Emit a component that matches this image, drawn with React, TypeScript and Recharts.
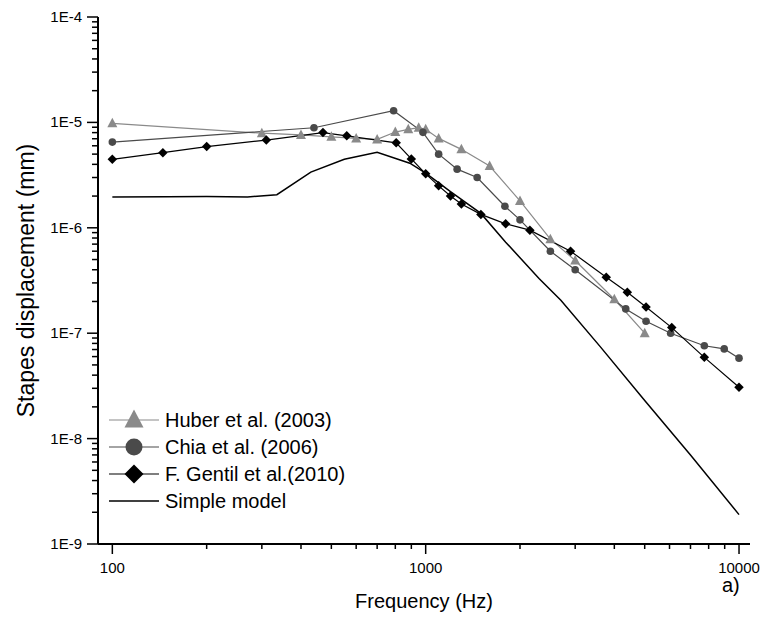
import React from 'react';
import { LineChart, Line, XAxis, YAxis } from 'recharts';

// Frequency (Hz) / stapes displacement (mm) per data set
const huberFreq = [100, 300, 400, 500, 600, 700, 800, 880, 950, 1000, 1100, 1300, 1600, 2000, 2500, 3000, 4000, 5000];
const huberDisp = [9.8e-6, 7.9e-6, 7.6e-6, 7.3e-6, 7.05e-6, 6.9e-6, 8.1e-6, 8.6e-6, 8.9e-6, 8.6e-6, 7.05e-6, 5.55e-6, 3.85e-6, 1.8e-6, 7.8e-7, 4.9e-7, 2.1e-7, 1.0e-7];

const chiaFreq = [100, 440, 790, 980, 1100, 1260, 1460, 1790, 2000, 2500, 3000, 4350, 5050, 6050, 7750, 8970, 10000];
const chiaDisp = [6.5e-6, 8.9e-6, 1.29e-5, 8.05e-6, 5.0e-6, 3.6e-6, 3.0e-6, 1.6e-6, 1.19e-6, 6.0e-7, 4.0e-7, 1.7e-7, 1.3e-7, 1.0e-7, 7.6e-8, 7.1e-8, 5.8e-8];

const gentilFreq = [100, 145, 200, 310, 470, 560, 805, 900, 1000, 1100, 1200, 1300, 1500, 1800, 2150, 2900, 3770, 4400, 5050, 6100, 7750, 10000];
const gentilDisp = [4.46e-6, 5.16e-6, 5.9e-6, 6.8e-6, 8.0e-6, 7.45e-6, 6.4e-6, 4.5e-6, 3.25e-6, 2.5e-6, 2.0e-6, 1.68e-6, 1.34e-6, 1.09e-6, 9.5e-7, 6.0e-7, 3.4e-7, 2.45e-7, 1.77e-7, 1.13e-7, 5.9e-8, 3.07e-8];

const modelFreq = [100, 150, 200, 270, 335, 430, 550, 700, 890, 1000, 1200, 1500, 1800, 2000, 2300, 2700, 3600, 5000, 7000, 10000];
const modelDisp = [1.96e-6, 1.97e-6, 1.98e-6, 1.96e-6, 2.06e-6, 3.38e-6, 4.47e-6, 5.2e-6, 4.1e-6, 3.3e-6, 2.2e-6, 1.37e-6, 7.3e-7, 5.2e-7, 3.3e-7, 2.05e-7, 7.5e-8, 2.3e-8, 7.0e-9, 1.9e-9];

const xMajor = [100, 1000, 10000];
const yMajor = [1e-9, 1e-8, 1e-7, 1e-6, 1e-5, 1e-4];

const seriesNames = ['Huber et al. (2003)', 'Chia et al. (2006)', 'F. Gentil et al.(2010)', 'Simple model'];

const FONT = '"Liberation Sans", Arial, sans-serif';
const HUBER = '#8a8a8a';
const CHIA = '#4a4a4a';
const GENTIL = '#000000';

const toRows = (fs: number[], vs: number[]) => fs.map((f, i) => ({ f, v: vs[i] }));

const huberData = toRows(huberFreq, huberDisp);
const chiaData = toRows(chiaFreq, chiaDisp);
const gentilData = toRows(gentilFreq, gentilDisp);
const modelData = toRows(modelFreq, modelDisp);

// minor ticks at 2..9 of each decade
const withMinors = (majors: number[]) => {
  const out: number[] = [];
  majors.forEach((m, i) => {
    out.push(m);
    if (i < majors.length - 1) for (let k = 2; k <= 9; k++) out.push(m * k);
  });
  return out;
};
const xTicks = withMinors(xMajor);
const yTicks = withMinors(yMajor);

const isMajor = (v: number) => Math.abs(Math.log10(v) - Math.round(Math.log10(v))) < 1e-6;

const BottomTick = ({ x, y, payload }: any) => {
  const major = isMajor(payload.value);
  return (
    <g>
      <line x1={x} x2={x} y1={y} y2={y + (major ? 10 : 5)} stroke="#000" strokeWidth={1.5} />
      {major && (
        <text x={x} y={y + 29} textAnchor="middle" fontSize={15} fontFamily={FONT} fill="#000">
          {Math.round(payload.value)}
        </text>
      )}
    </g>
  );
};

const TopTick = ({ x, y, payload }: any) => (
  <line x1={x} x2={x} y1={y} y2={y + (isMajor(payload.value) ? 4 : 2)} stroke="#000" strokeWidth={1} />
);

const LeftTick = ({ x, y, payload }: any) => {
  const major = isMajor(payload.value);
  return (
    <g>
      <line x1={x} x2={x - (major ? 11 : 6)} y1={y} y2={y} stroke="#000" strokeWidth={1.5} />
      {major && (
        <text x={x - 16} y={y + 5} textAnchor="end" fontSize={15} fontFamily={FONT} fill="#000">
          {`1E${Math.round(Math.log10(payload.value))}`}
        </text>
      )}
    </g>
  );
};

const RightTick = ({ x, y, payload }: any) => (
  <line x1={x} x2={x - (isMajor(payload.value) ? 4 : 2)} y1={y} y2={y} stroke="#000" strokeWidth={1} />
);

const Triangle = ({ cx, cy, s, fill }: any) => (
  <polygon points={`${cx},${cy - s * 0.55} ${cx - s / 2},${cy + s * 0.4} ${cx + s / 2},${cy + s * 0.4}`} fill={fill} />
);
const Diamond = ({ cx, cy, s, fill }: any) => (
  <polygon points={`${cx},${cy - s / 2} ${cx + s / 2},${cy} ${cx},${cy + s / 2} ${cx - s / 2},${cy}`} fill={fill} />
);

const triDot = (p: any) => <Triangle key={`t${p.index}`} cx={p.cx} cy={p.cy} s={10} fill={HUBER} />;
const circDot = (p: any) => <circle key={`c${p.index}`} cx={p.cx} cy={p.cy} r={3.8} fill={CHIA} />;
const diaDot = (p: any) => <Diamond key={`d${p.index}`} cx={p.cx} cy={p.cy} s={9.5} fill={GENTIL} />;

const LegendBox = () => {
  const rows = [
    { color: HUBER, mark: (cx: number, cy: number) => <Triangle cx={cx} cy={cy} s={19} fill={HUBER} /> },
    { color: CHIA, mark: (cx: number, cy: number) => <circle cx={cx} cy={cy} r={8.5} fill={CHIA} /> },
    { color: GENTIL, mark: (cx: number, cy: number) => <Diamond cx={cx} cy={cy} s={19} fill={GENTIL} /> },
    { color: '#000', mark: null },
  ];
  return (
    <svg width={260} height={110} style={{ position: 'absolute', left: 100, top: 406 }}>
      {rows.map((r, i) => {
        const cy = 14 + i * 27;
        return (
          <g key={i}>
            <line x1={9} x2={59} y1={cy} y2={cy} stroke={r.color} strokeWidth={i === 3 ? 1.5 : 1.2} />
            {r.mark && r.mark(34, cy)}
            <text x={65} y={cy + 7} fontSize={20} fontFamily={FONT} fill="#000">
              {seriesNames[i]}
            </text>
          </g>
        );
      })}
    </svg>
  );
};

export default function App() {
  return (
    <div style={{ position: 'absolute', left: 0, top: 0, width: 768, height: 620, background: '#fff' }}>
      <LineChart width={768} height={620} margin={{ top: 17, right: 18, bottom: 0, left: 0 }}>
        <XAxis
          xAxisId="b"
          type="number"
          dataKey="f"
          scale="log"
          domain={[90, 10840]}
          allowDataOverflow
          ticks={xTicks}
          interval={0}
          tickSize={0}
          tickMargin={0}
          tick={<BottomTick />}
          axisLine={{ stroke: '#000', strokeWidth: 2 }}
          height={76}
          label={({ viewBox }: any) => (
            <text x={viewBox.x + viewBox.width / 2} y={viewBox.y + 64} textAnchor="middle" fontSize={20} fontFamily={FONT} fill="#000">
              Frequency (Hz)
            </text>
          )}
        />
        <XAxis
          xAxisId="t"
          orientation="top"
          type="number"
          dataKey="f"
          scale="log"
          domain={[90, 10840]}
          allowDataOverflow
          ticks={xTicks}
          interval={0}
          tickSize={0}
          tickMargin={0}
          tick={<TopTick />}
          axisLine={{ stroke: '#000', strokeWidth: 2 }}
          height={0}
        />
        <YAxis
          yAxisId="l"
          type="number"
          scale="log"
          domain={[1e-9, 1e-4]}
          allowDataOverflow
          ticks={yTicks}
          interval={0}
          tickSize={0}
          tickMargin={0}
          tick={<LeftTick />}
          axisLine={{ stroke: '#000', strokeWidth: 2 }}
          width={98}
          label={({ viewBox }: any) => {
            const cx = 34;
            const cy = viewBox.y + viewBox.height / 2;
            return (
              <text x={cx} y={cy} transform={`rotate(-90, ${cx}, ${cy})`} textAnchor="middle" fontSize={23} fontFamily={FONT} fill="#000">
                Stapes displacement (mm)
              </text>
            );
          }}
        />
        <YAxis
          yAxisId="r"
          orientation="right"
          type="number"
          scale="log"
          domain={[1e-9, 1e-4]}
          allowDataOverflow
          ticks={yTicks}
          interval={0}
          tickSize={0}
          tickMargin={0}
          tick={<RightTick />}
          axisLine={{ stroke: '#000', strokeWidth: 2 }}
          width={0}
        />
        <Line xAxisId="b" yAxisId="l" data={modelData} dataKey="v" stroke="#000" strokeWidth={1.5} dot={false} isAnimationActive={false} name={seriesNames[3]} />
        <Line xAxisId="b" yAxisId="l" data={huberData} dataKey="v" stroke={HUBER} strokeWidth={1.2} dot={triDot} isAnimationActive={false} name={seriesNames[0]} />
        <Line xAxisId="b" yAxisId="l" data={chiaData} dataKey="v" stroke={CHIA} strokeWidth={1.2} dot={circDot} isAnimationActive={false} name={seriesNames[1]} />
        <Line xAxisId="b" yAxisId="l" data={gentilData} dataKey="v" stroke={GENTIL} strokeWidth={1.2} dot={diaDot} isAnimationActive={false} name={seriesNames[2]} />
      </LineChart>
      <LegendBox />
      <div style={{ position: 'absolute', left: 722, top: 574, fontSize: 20, fontFamily: FONT, color: '#000' }}>a)</div>
    </div>
  );
}
